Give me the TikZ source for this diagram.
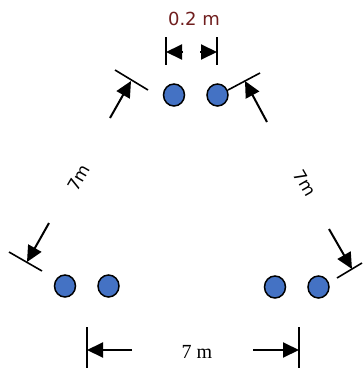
\documentclass[tikz,border=0pt]{standalone}
\usepackage{fontspec}
\setmainfont{Liberation Serif}
\newfontfamily\dimsans{DejaVu Sans}
\usepackage{tikz}
\usetikzlibrary{
  arrows.meta,
  positioning,
  shapes.geometric
}
\definecolor{condblue}{RGB}{68,114,196}
\definecolor{dimred}{RGB}{112,30,30}
\tikzset{
  cond/.style={ellipse, draw, line width=1.5pt, fill=condblue,
    minimum width=21pt, minimum height=22pt, inner sep=0pt},
  dimtick/.style={line width=1.6pt},
  arr/.style={-{Triangle[length=16pt, width=15pt]}, line width=2pt},
  dimlabel/.style={font=\dimsans\fontsize{18}{20}\selectfont, inner sep=0pt},
  slantlabel/.style={font=\dimsans\fontsize{17}{19}\selectfont, inner sep=0pt},
}

\begin{document}
\begin{tikzpicture}[x=1pt, y=-1pt]
  \useasboundingbox (0,0) rectangle (363,370);

  % Three conductor pairs
  \node[cond] (topA) at (174,95) {};
  \node[cond, right=21pt of topA] (topB) {};
  \node[cond] (leftA) at (65,286) {};
  \node[cond, right=21pt of leftA] (leftB) {};
  \node[cond] (rightA) at (275,287) {};
  \node[cond, right=21pt of rightA] (rightB) {};

  % Spacing within a pair
  \node[dimlabel, text=dimred] (gap) at (194,18.5) {0.2 m};
  \coordinate (gapL1) at (166,37);
  \coordinate (gapL2) at (166,65);
  \coordinate (gapR1) at (217,37);
  \coordinate (gapR2) at (217,65);
  \draw[dimtick] (gapL1) -- (gapL2);
  \draw[dimtick] (gapR1) -- (gapR2);
  \coordinate (gapLa) at (183,52);
  \coordinate (gapLb) at (166,52);
  \coordinate (gapRa) at (200,52);
  \coordinate (gapRb) at (217,52);
  \draw[arr] (gapLa) -- (gapLb);
  \draw[arr] (gapRa) -- (gapRb);

  % Left side
  \coordinate (tlT1) at (115,70);
  \coordinate (tlT2) at (148,90);
  \draw[dimtick] (tlT1) -- (tlT2);
  \coordinate (blT1) at (9,252);
  \coordinate (blT2) at (42,271);
  \draw[dimtick] (blT1) -- (blT2);
  \coordinate (tlA) at (110,118);
  \coordinate (tlB) at (131,81);
  \draw[arr] (tlA) -- (tlB);
  \coordinate (blA) at (49,223);
  \coordinate (blB) at (27,262);
  \draw[arr] (blA) -- (blB);
  \node[slantlabel, rotate=60] (sideL) at (79,178) {7m};

  % Right side
  \coordinate (trT1) at (228,90);
  \coordinate (trT2) at (260,73);
  \draw[dimtick] (trT1) -- (trT2);
  \coordinate (brT1) at (337,278);
  \coordinate (brT2) at (362,263);
  \draw[dimtick] (brT1) -- (brT2);
  \coordinate (trA) at (267,122);
  \coordinate (trB) at (245,81);
  \draw[arr] (trA) -- (trB);
  \coordinate (brA) at (329,229);
  \coordinate (brB) at (352,269);
  \draw[arr] (brA) -- (brB);
  \node[slantlabel, rotate=-60] (sideR) at (305,183) {7m};

  % Bottom side
  \coordinate (botL1) at (87,327);
  \coordinate (botL2) at (87,368);
  \coordinate (botR1) at (299,327);
  \coordinate (botR2) at (299,368);
  \draw[dimtick] (botL1) -- (botL2);
  \draw[dimtick] (botR1) -- (botR2);
  \coordinate (botLa) at (132,350);
  \coordinate (botLb) at (87,350);
  \coordinate (botRa) at (253,350);
  \coordinate (botRb) at (299,350);
  \draw[arr] (botLa) -- (botLb);
  \draw[arr] (botRa) -- (botRb);
  \node[font=\fontsize{20}{22}\selectfont, inner sep=0pt] (sideB) at (197,352) {7 m};
\end{tikzpicture}
\end{document}
